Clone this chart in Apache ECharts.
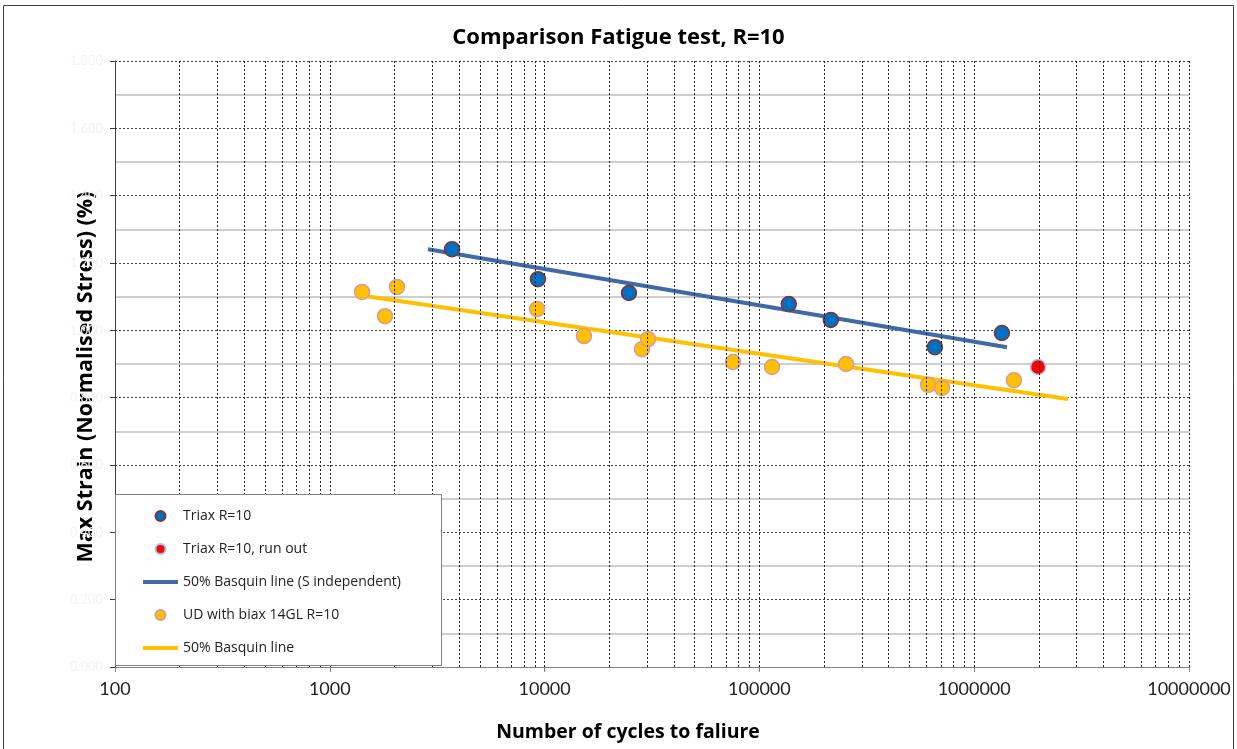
<!DOCTYPE html>
<html>
<head>
<meta charset="utf-8">
<script src="https://cdn.jsdelivr.net/npm/echarts@6/dist/echarts.min.js"></script>
<style>
  html, body { margin: 0; padding: 0; background: #fff; }
  #main { width: 1237px; height: 749px; }
</style>
</head>
<body>
<div id="main"></div>
<script>
// Triax R=10 (cycles, max strain)
const triaxN = [3707, 9310, 24700, 137000, 215000, 656000, 1346000];
const triaxS = [1.241, 1.152, 1.111, 1.078, 1.031, 0.950, 0.992];
// Triax R=10, run out
const runoutN = [1982000];
const runoutS = [0.891];
// UD with biax 14GL R=10
const udN = [1413, 1807, 2055, 9230, 15250, 28400, 30300, 75400, 114500, 253000, 610000, 708000, 1531000];
const udS = [1.114, 1.042, 1.129, 1.063, 0.983, 0.944, 0.974, 0.906, 0.891, 0.900, 0.838, 0.829, 0.852];
// basquin lines (end points)
const triaxLineN = [2865, 1422000];
const triaxLineS = [1.241, 0.950];
const udLineN = [1459, 2735000];
const udLineS = [1.102, 0.796];
// minor grid lines on the log axis (2..9 in each decade)
const minorDecades = [100, 1000, 10000, 100000, 1000000];
const minorSteps = [2, 3, 4, 5, 6, 7, 8, 9];

const pairs = (xs, ys) => xs.map((x, i) => [x, ys[i]]);

var minorLines = [];
minorDecades.forEach(d => minorSteps.forEach(s => minorLines.push({ xAxis: d * s })));

var lineIcon = 'path://M0,0 L35,0 L35,4 L0,4 Z';

var chartDom = document.getElementById('main');
var myChart = echarts.init(chartDom);

var option = {
  animation: false,
  title: {
    text: 'Comparison Fatigue test, R=10',
    left: 'center',
    top: 22,
    textStyle: { fontFamily: 'Open Sans', fontSize: 22, fontWeight: 'bold', color: '#000' }
  },
  graphic: [
    {
      type: 'rect', z: 0,
      shape: { x: 3.5, y: 5.5, width: 1230, height: 760 },
      style: { fill: null, stroke: '#404040', lineWidth: 1 }
    },
    {
      type: 'rect', z: 50,
      shape: { x: 115.5, y: 494.5, width: 326, height: 171 },
      style: { fill: '#fff', stroke: '#808080', lineWidth: 1 }
    }
  ],
  legend: {
    z: 60,
    orient: 'vertical',
    left: 143,
    top: 509,
    padding: 0,
    itemWidth: 35,
    itemHeight: 10,
    itemGap: 19,
    textStyle: { fontFamily: 'Open Sans', fontSize: 14, color: '#222' },
    data: [
      { name: 'Triax R=10' },
      { name: 'Triax R=10, run out' },
      { name: '50% Basquin line (S independent)', icon: lineIcon },
      { name: 'UD with biax 14GL R=10' },
      { name: '50% Basquin line', icon: lineIcon }
    ]
  },
  grid: { left: 115, right: 48, top: 61, bottom: 82 },
  xAxis: {
    type: 'log',
    logBase: 10,
    min: 100,
    max: 10000000,
    name: 'Number of cycles to faliure',
    nameLocation: 'middle',
    nameGap: 55,
    nameTextStyle: {
      fontFamily: 'Open Sans', fontSize: 19.5, fontWeight: 'bold', color: '#000',
      padding: [0, 48, 0, 0]
    },
    axisLine: { show: true, lineStyle: { color: '#808080', width: 1 } },
    axisTick: { show: true, length: 5, lineStyle: { color: '#808080' } },
    axisLabel: {
      fontFamily: 'Lato', fontSize: 18, color: '#222', margin: 13,
      formatter: v => String(Math.round(v))
    },
    splitLine: { show: true, lineStyle: { color: '#222', type: [2, 2], width: 1 } }
  },
  yAxis: {
    type: 'value',
    min: 0,
    max: 1.8,
    interval: 0.2,
    name: 'Max Strain (Normalised Stress) (%)',
    nameLocation: 'middle',
    nameGap: 18,
    nameMoveOverlap: false,
    nameTextStyle: {
      fontFamily: 'Open Sans', fontSize: 21.5, fontWeight: 'bold', color: '#000',
      padding: [0, 26, 0, 0]
    },
    axisLine: { show: true, lineStyle: { color: '#404040', width: 1 } },
    axisTick: { show: true, length: 5, lineStyle: { color: '#404040' } },
    axisLabel: {
      fontFamily: 'Lato', fontSize: 13, color: '#f3f3f3', margin: 12,
      formatter: v => v.toFixed(3)
    },
    splitLine: { show: true, lineStyle: { color: '#404040', type: [2, 2], width: 1 } },
    minorTick: { show: false, splitNumber: 2 },
    minorSplitLine: { show: true, lineStyle: { color: '#bfbfbf', width: 1.5 } }
  },
  series: [
    {
      name: 'grid',
      type: 'line',
      data: [],
      z: 1,
      silent: true,
      markLine: {
        silent: true,
        symbol: ['none', 'none'],
        label: { show: false },
        lineStyle: { color: '#222', type: [2, 2], width: 1 },
        data: minorLines
      }
    },
    {
      name: '50% Basquin line (S independent)',
      type: 'line',
      data: pairs(triaxLineN, triaxLineS),
      showSymbol: false,
      symbol: 'none',
      z: 3,
      itemStyle: { color: '#4169A8' },
      lineStyle: { color: '#4169A8', width: 4 }
    },
    {
      name: '50% Basquin line',
      type: 'line',
      data: pairs(udLineN, udLineS),
      showSymbol: false,
      symbol: 'none',
      z: 3,
      itemStyle: { color: '#FFC000' },
      lineStyle: { color: '#FFC000', width: 4 }
    },
    {
      name: 'Triax R=10',
      type: 'scatter',
      data: pairs(triaxN, triaxS),
      symbolSize: 15,
      z: 4,
      itemStyle: { color: '#0070C0', borderColor: '#8B2F2F', borderWidth: 1.5, opacity: 1 }
    },
    {
      name: 'Triax R=10, run out',
      type: 'scatter',
      data: pairs(runoutN, runoutS),
      symbolSize: 15,
      z: 4,
      itemStyle: { color: '#FF0000', borderColor: '#9DC3E6', borderWidth: 1.5, opacity: 1 }
    },
    {
      name: 'UD with biax 14GL R=10',
      type: 'scatter',
      data: pairs(udN, udS),
      symbolSize: 15,
      z: 4,
      itemStyle: { color: '#FFC000', borderColor: '#D79B9B', borderWidth: 1.5, opacity: 1 }
    }
  ]
};

myChart.setOption(option);
</script>
</body>
</html>
